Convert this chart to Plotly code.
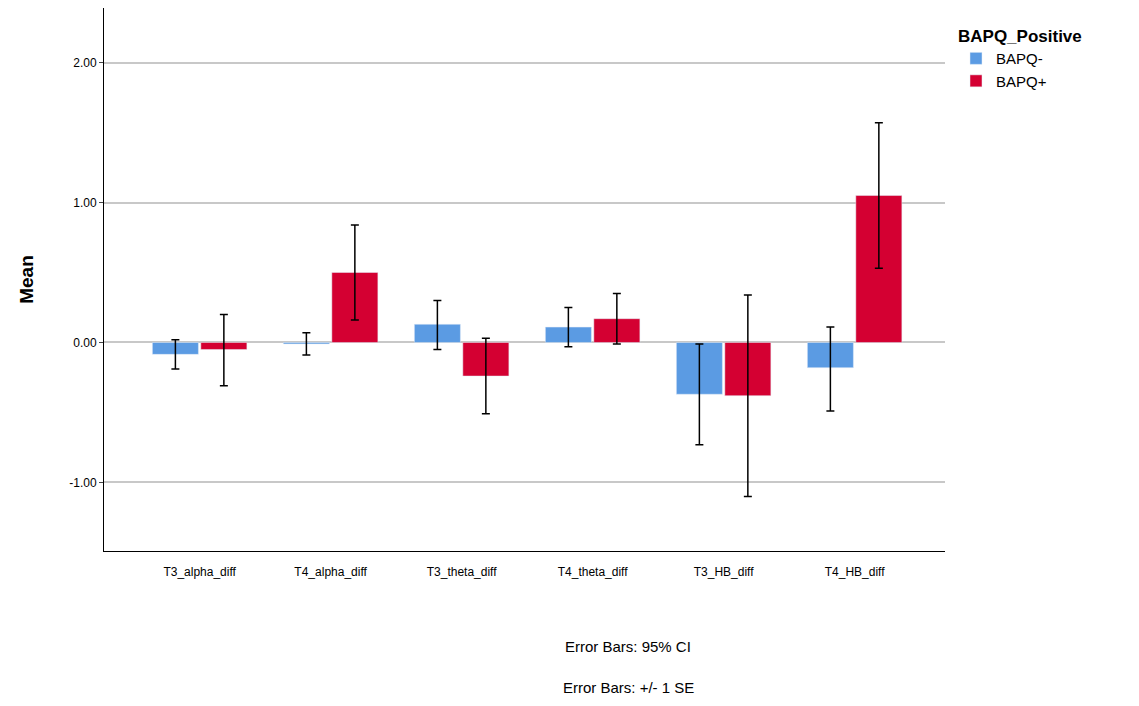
import plotly.graph_objects as go

categories = ["T3_alpha_diff", "T4_alpha_diff", "T3_theta_diff", "T4_theta_diff", "T3_HB_diff", "T4_HB_diff"]
neg_mean = [-0.085, -0.01, 0.13, 0.11, -0.37, -0.18]
neg_hi = [0.02, 0.07, 0.30, 0.25, -0.01, 0.11]
neg_lo = [-0.19, -0.09, -0.05, -0.03, -0.73, -0.49]
pos_mean = [-0.05, 0.50, -0.24, 0.17, -0.38, 1.05]
pos_hi = [0.20, 0.84, 0.03, 0.35, 0.34, 1.57]
pos_lo = [-0.31, 0.16, -0.51, -0.01, -1.10, 0.53]

def err(m, hi, lo):
    return dict(type="data", symmetric=False,
                array=[h - v for v, h in zip(m, hi)],
                arrayminus=[v - l for v, l in zip(m, lo)],
                color="black", thickness=1.5, width=4)

fig = go.Figure()
fig.add_bar(x=categories, y=neg_mean, name="BAPQ-", marker_color="#5B9BE3",
            error_y=err(neg_mean, neg_hi, neg_lo))
fig.add_bar(x=categories, y=pos_mean, name="BAPQ+", marker_color="#D40032",
            error_y=err(pos_mean, pos_hi, pos_lo))

L, R, T, B = 96, 202, 0, 163
W, H = 1139, 706
pw, ph = W - L - R, H - T - B
fig.update_layout(
    width=W, height=H, barmode="group", bargap=0.26, bargroupgap=0.05,
    plot_bgcolor="white", paper_bgcolor="white",
    margin=dict(l=L, r=R, t=T, b=B),
    font=dict(family="Arial, Liberation Sans", size=12, color="black"),
    legend=dict(x=(956 - 8 - L) / pw, y=1 - (20 - 8) / ph, xanchor="left", yanchor="top",
                title=dict(text="<b>BAPQ_Positive</b>", font=dict(size=17)),
                font=dict(size=15)),
    xaxis=dict(range=[-0.73, 5.69], showline=True, linecolor="black", ticks="",
               tickfont=dict(size=12), ticklabelstandoff=10),
    yaxis=dict(range=[-1.49, 2.39], tickvals=[-1, 0, 1, 2], ticktext=["-1.00", "0.00", "1.00", "2.00"],
               showgrid=True, gridcolor="#c8c8c8", gridwidth=2, zeroline=False,
               showline=True, linecolor="black", ticks="outside", ticklen=4,
               title=dict(text="<b>Mean</b>", font=dict(size=19), standoff=30)),
    annotations=[
        dict(text="Error Bars: 95% CI", x=(620 - L) / pw, y=(H - B - 649) / ph,
             xref="paper", yref="paper", showarrow=False, font=dict(size=15)),
        dict(text="Error Bars: +/- 1 SE", x=(620 - L) / pw, y=(H - B - 690) / ph,
             xref="paper", yref="paper", showarrow=False, font=dict(size=15)),
    ],
)
fig.write_html("out.html")
